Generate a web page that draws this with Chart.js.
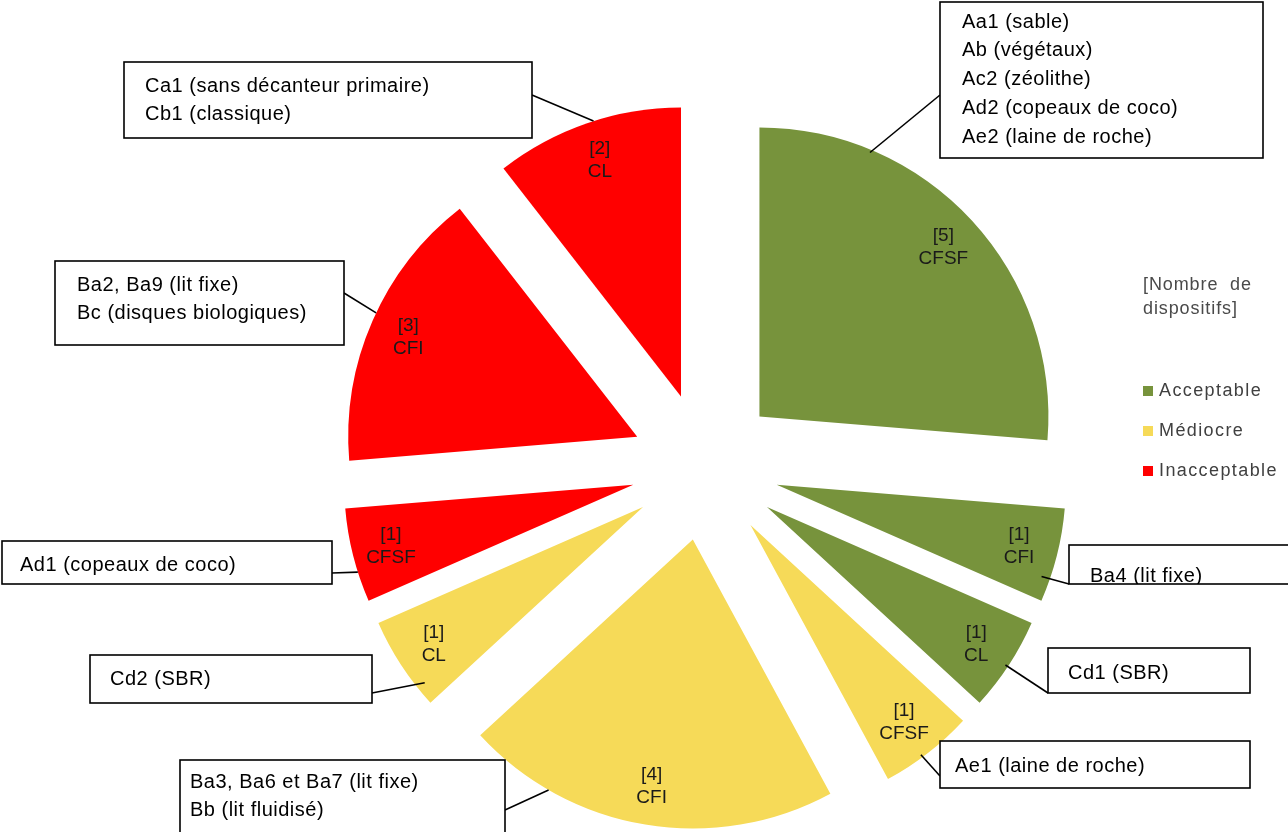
<!DOCTYPE html>
<html lang="fr">
<head>
<meta charset="utf-8">
<title>Dispositifs par niveau de performance</title>
<script src="https://cdn.jsdelivr.net/npm/chart.js@4.4.1/dist/chart.umd.min.js"></script>
<style>
  html, body { margin: 0; padding: 0; background: #fff; }
  #wrap { width: 1288px; height: 832px; position: relative; }
</style>
</head>
<body>
<div id="wrap"><canvas id="chart" width="1288" height="832"></canvas></div>
<script>
// ── Data ──────────────────────────────────────────────────────────────────
const levels = ['Acceptable', 'Médiocre', 'Inacceptable'];
const levelColors = ['#77933c', '#f6da58', '#ff0000'];
const sliceLevel = [0, 0, 0, 1, 1, 1, 2, 2, 2];
const sliceType = ['CFSF', 'CFI', 'CL', 'CFSF', 'CFI', 'CL', 'CFSF', 'CFI', 'CL'];
const sliceCount = [5, 1, 1, 1, 4, 1, 1, 3, 2];
const sliceDevices = [
  ['Aa1 (sable)', 'Ab (végétaux)', 'Ac2 (zéolithe)', 'Ad2 (copeaux de coco)', 'Ae2 (laine de roche)'],
  ['Ba4 (lit fixe)'],
  ['Cd1 (SBR)'],
  ['Ae1 (laine de roche)'],
  ['Ba3, Ba6 et Ba7 (lit fixe)', 'Bb (lit fluidisé)'],
  ['Cd2 (SBR)'],
  ['Ad1 (copeaux de coco)'],
  ['Ba2, Ba9 (lit fixe)', 'Bc (disques biologiques)'],
  ['Ca1 (sans décanteur primaire)', 'Cb1 (classique)']
];
const legendTitle = ['[Nombre  de', 'dispositifs]'];

// ── Layout of the callout boxes (one per slice, same order) ─────────────
// box: x, y, w, h  |  pad: text inset  |  top: first text line centre
// hook: where the leader leaves the box  |  at / rr: where it touches the slice
const callouts = [
  { box: [940, 2, 323, 156], pad: 22, top: 22, hook: [940, 95], at: 0.24, rr: 0.99 },
  { box: [1069, 545, 240, 39], pad: 21, top: 576, hook: [1069, 584], at: 0.76, rr: 0.97 },
  { box: [1048, 648, 202, 45], pad: 20, top: 673, hook: [1048, 693], at: 0.52, rr: 0.99 },
  { box: [940, 741, 310, 47], pad: 15, top: 766, hook: [940, 776], at: 0.57, rr: 0.99 },
  { box: [180, 760, 325, 80], pad: 10, top: 782, hook: [505, 810], at: 0.77, rr: 1 },
  { box: [90, 655, 282, 48], pad: 20, top: 679, hook: [372, 693], at: 0.2, rr: 0.97 },
  { box: [2, 541, 330, 43], pad: 18, top: 565, hook: [332, 573], at: 0.32, rr: 1 },
  { box: [55, 261, 289, 84], pad: 22, top: 285, hook: [344, 293], at: 0.53, rr: 1 },
  { box: [124, 62, 408, 76], pad: 21, top: 86, hook: [532, 95], at: 0.535, rr: 1 }
];

const FONT = '"Liberation Sans", Arial, sans-serif';
const EXPLODE = 74;

// point on an exploded slice: t = fraction of the sweep, rr = fraction of radius
function slicePoint(arc, t, rr) {
  const mid = (arc.startAngle + arc.endAngle) / 2;
  const a = arc.startAngle + t * (arc.endAngle - arc.startAngle);
  return {
    x: arc.x + Math.cos(mid) * EXPLODE + Math.cos(a) * arc.outerRadius * rr,
    y: arc.y + Math.sin(mid) * EXPLODE + Math.sin(a) * arc.outerRadius * rr
  };
}

// Draw every slice pulled out along its bisector (Excel-style explosion)
const explodePlugin = {
  id: 'explode',
  beforeDatasetDraw(chart, args) {
    const ctx = chart.ctx;
    args.meta.data.forEach(arc => {
      const mid = (arc.startAngle + arc.endAngle) / 2;
      ctx.save();
      ctx.translate(Math.cos(mid) * EXPLODE, Math.sin(mid) * EXPLODE);
      arc.draw(ctx);
      ctx.restore();
    });
    return false;
  }
};

// "[n]" + type inside each slice, callout boxes and the side legend
const annotatePlugin = {
  id: 'annotate',
  afterDraw(chart) {
    const ctx = chart.ctx;
    const arcs = chart.getDatasetMeta(0).data;

    // slice labels
    ctx.save();
    ctx.fillStyle = '#1a1a1a';
    ctx.font = '19px ' + FONT;
    ctx.textAlign = 'center';
    ctx.textBaseline = 'middle';
    arcs.forEach((arc, i) => {
      const p = slicePoint(arc, 0.5, 0.865);
      ctx.fillText('[' + sliceCount[i] + ']', p.x, p.y - 11);
      ctx.fillText(sliceType[i], p.x, p.y + 12);
    });
    ctx.restore();

    // callouts
    ctx.save();
    ctx.strokeStyle = '#000';
    ctx.lineWidth = 1.6;
    callouts.forEach((c, i) => {
      const [bx, by, bw, bh] = c.box;
      const p = slicePoint(arcs[i], c.at, c.rr);
      ctx.beginPath();
      ctx.moveTo(c.hook[0], c.hook[1]);
      ctx.lineTo(p.x, p.y);
      ctx.stroke();

      ctx.fillStyle = '#fff';
      ctx.fillRect(bx, by, bw, bh);
      ctx.save();
      ctx.beginPath();
      ctx.rect(bx, by, bw, bh);
      ctx.clip();
      ctx.fillStyle = '#000';
      ctx.font = '20px ' + FONT;
      ctx.letterSpacing = '0.5px';
      ctx.textAlign = 'left';
      ctx.textBaseline = 'middle';
      sliceDevices[i].forEach((line, k) => {
        ctx.fillText(line, bx + c.pad, c.top + k * 28.8);
      });
      ctx.restore();
      ctx.strokeRect(bx, by, bw, bh);
    });
    ctx.restore();

    // legend
    ctx.save();
    ctx.textAlign = 'left';
    ctx.textBaseline = 'middle';
    ctx.font = '18px ' + FONT;
    ctx.fillStyle = '#4a4a4a';
    ctx.letterSpacing = '0.9px';
    legendTitle.forEach((t, k) => ctx.fillText(t, 1143, 285 + k * 24));
    ctx.letterSpacing = '1.4px';
    levels.forEach((name, k) => {
      const y = 391 + k * 40;
      ctx.fillStyle = levelColors[k];
      ctx.fillRect(1143, y - 5, 10, 10);
      ctx.fillStyle = '#404040';
      ctx.fillText(name, 1159, y);
    });
    ctx.restore();
  }
};

new Chart(document.getElementById('chart'), {
  type: 'pie',
  data: {
    labels: sliceType.map((t, i) => levels[sliceLevel[i]] + ' ' + t),
    datasets: [{
      data: sliceCount,
      backgroundColor: sliceLevel.map(l => levelColors[l]),
      borderWidth: 0
    }]
  },
  options: {
    responsive: false,
    animation: false,
    events: [],
    radius: 289,
    layout: { padding: { left: 122, right: 0, top: 101, bottom: 0 } },
    plugins: {
      legend: { display: false },
      tooltip: { enabled: false }
    }
  },
  plugins: [explodePlugin, annotatePlugin]
});
</script>
</body>
</html>
